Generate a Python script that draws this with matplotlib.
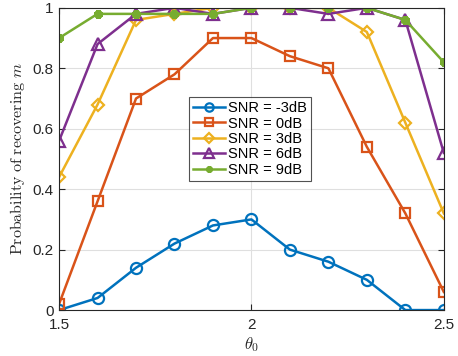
import matplotlib
matplotlib.use("Agg")
import matplotlib.pyplot as plt

theta = [1.5, 1.6, 1.7, 1.8, 1.9, 2.0, 2.1, 2.2, 2.3, 2.4, 2.5]
snr_m3 = [0.0, 0.04, 0.14, 0.22, 0.28, 0.30, 0.20, 0.16, 0.10, 0.0, 0.0]
snr_0 = [0.02, 0.36, 0.70, 0.78, 0.90, 0.90, 0.84, 0.80, 0.54, 0.32, 0.06]
snr_3 = [0.44, 0.68, 0.96, 0.98, 1.0, 1.0, 1.0, 1.0, 0.92, 0.62, 0.32]
snr_6 = [0.56, 0.88, 0.98, 1.0, 0.98, 1.0, 1.0, 0.98, 1.0, 0.96, 0.52]
snr_9 = [0.90, 0.98, 0.98, 0.98, 0.98, 1.0, 1.0, 1.0, 1.0, 0.96, 0.82]
labels = ["SNR = -3dB", "SNR = 0dB", "SNR = 3dB", "SNR = 6dB", "SNR = 9dB"]
xticks = [1.5, 2, 2.5]
yticks = [0, 0.2, 0.4, 0.6, 0.8, 1]

plt.rcParams['font.family'] = ['Liberation Sans', 'DejaVu Sans']
plt.rcParams['mathtext.fontset'] = 'cm'

fig = plt.figure(figsize=(4.58, 3.56), dpi=100)
ax = fig.add_axes([0.129, 0.129, 0.840, 0.849])

colors = ['#0072BD', '#D95319', '#EDB120', '#7E2F8E', '#77AC30']
markers = ['o', 's', 'D', '^', (8, 2, 0)]
msizes = [8, 7, 6.5, 9, 6]
series = [snr_m3, snr_0, snr_3, snr_6, snr_9]
for s, c, m, ms, lab in zip(series, colors, markers, msizes, labels):
    if lab.endswith('9dB'):
        ax.plot(theta, s, color=c, marker=m, markersize=ms, lw=1.8,
                markeredgewidth=2.5, label=lab)
    else:
        ax.plot(theta, s, color=c, marker=m, markersize=ms, lw=1.8,
                markerfacecolor='none', markeredgewidth=1.6, label=lab)

ax.set_xlim(1.5, 2.5)
ax.set_ylim(0, 1)
ax.set_xticks(xticks)
ax.set_xticklabels(['1.5', '2', '2.5'])
ax.set_yticks(yticks)
ax.set_yticklabels(['0', '0.2', '0.4', '0.6', '0.8', '1'])
ax.grid(True, color='#dfdfdf', lw=0.8)
ax.set_axisbelow(True)
ax.tick_params(direction='in', top=True, right=True, labelsize=11, length=4,
               color='#262626', labelcolor='#262626')
ax.tick_params(axis='x', pad=6)
ax.tick_params(axis='y', pad=4)
for sp in ax.spines.values():
    sp.set_color('#262626')
    sp.set_linewidth(0.8)

ax.set_xlabel(r'$\theta_0$', fontsize=12, color='#262626', labelpad=2)
ax.set_ylabel(r'$\mathrm{Probability\ of\ recovering}\ m$', fontsize=11.5, color='#262626')

leg = ax.legend(loc='center', bbox_to_anchor=(0.496, 0.566), fontsize=10.5,
                frameon=True, fancybox=False, edgecolor='#262626',
                handlelength=2.2, handletextpad=0.2, borderpad=0.3,
                labelspacing=0.1, borderaxespad=0, markerscale=0.75)
leg.get_frame().set_linewidth(0.8)

fig.savefig('out.png', dpi=100)
